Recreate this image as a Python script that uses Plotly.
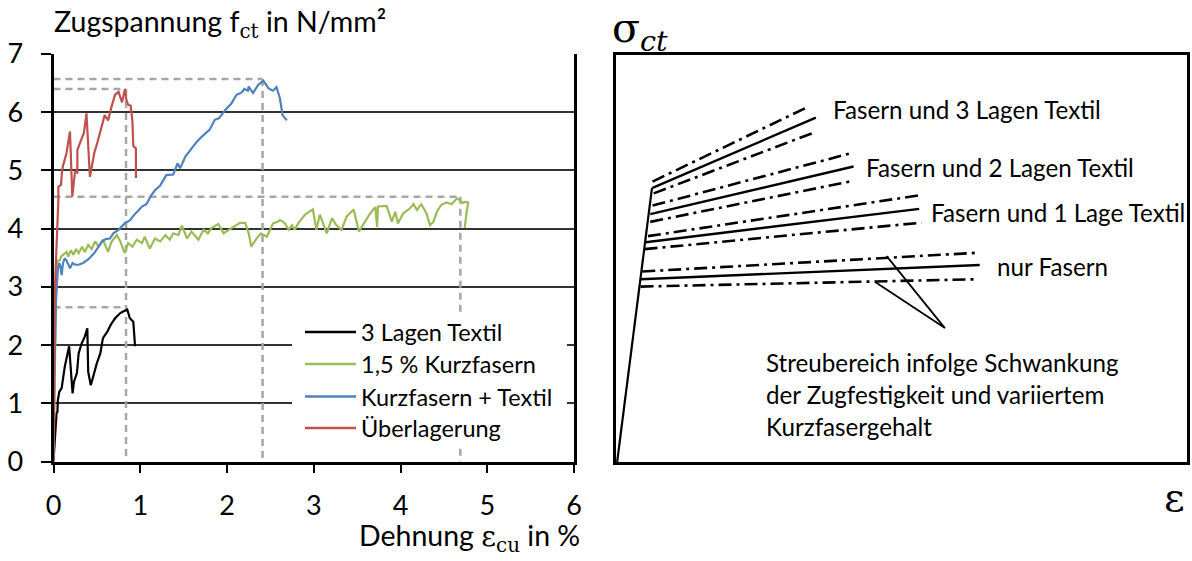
import plotly.graph_objects as go

W, H = 1192, 561

FONT = "Lato"
FS_TXT = 24.2     # schematic texts
FS_LEG = 23.5     # legend
FS_AX = 28.5      # axis titles
FS_TICK = 27      # tick labels
SERIF = "DejaVu Serif"

# ---------------- data (left chart) ----------------
x_textil = [0, 0.02, 0.035, 0.045, 0.05, 0.067, 0.094, 0.13, 0.18, 0.22, 0.236, 0.27, 0.29, 0.325, 0.36,
            0.39, 0.40, 0.43, 0.46, 0.50, 0.54, 0.57, 0.62, 0.66, 0.71, 0.77, 0.82, 0.85, 0.88, 0.92, 0.94]
y_textil = [0, 0.5, 0.83, 0.85, 1.05, 1.2, 1.26, 1.63, 1.98, 1.17, 1.37, 1.52, 1.86, 2.03, 2.14,
            2.29, 1.54, 1.31, 1.49, 1.69, 1.86, 2.12, 2.23, 2.35, 2.46, 2.55, 2.59, 2.61, 2.46, 2.40, 1.98]

x_fasern = [0, 0.01, 0.02, 0.03, 0.05, 0.075, 0.086, 0.11, 0.15, 0.17, 0.20, 0.23, 0.26, 0.29, 0.33, 0.36,
            0.40, 0.44, 0.48, 0.52, 0.57, 0.63, 0.67, 0.73, 0.77, 0.82, 0.86, 0.91, 0.96, 1.02, 1.05,
            1.11, 1.17, 1.23, 1.29, 1.34, 1.38, 1.44, 1.48, 1.54, 1.59, 1.67, 1.73, 1.78, 1.82, 1.90,
            1.96, 2.02, 2.07, 2.15, 2.21, 2.25, 2.28, 2.34, 2.39, 2.46, 2.53, 2.59, 2.61, 2.67, 2.71,
            2.75, 2.78, 2.82, 2.90, 2.99, 3.03, 3.07, 3.15, 3.21, 3.26, 3.32, 3.38, 3.46, 3.52, 3.59,
            3.65, 3.71, 3.73, 3.74, 3.84, 3.90, 3.94, 3.97, 4.03, 4.11, 4.15, 4.19, 4.24, 4.30, 4.34,
            4.38, 4.42, 4.47, 4.53, 4.59, 4.65, 4.69, 4.72, 4.74, 4.78, 4.76, 4.74]
y_fasern = [0, 1.2, 2.3, 3.0, 3.45, 3.46, 3.52, 3.55, 3.60, 3.52, 3.63, 3.55, 3.65, 3.58, 3.69, 3.60,
            3.72, 3.65, 3.78, 3.69, 3.81, 3.60, 3.78, 3.89, 3.78, 3.58, 3.75, 3.69, 3.81, 3.75, 3.86,
            3.66, 3.83, 3.78, 3.89, 3.81, 3.92, 3.89, 4.05, 3.83, 3.95, 3.81, 3.98, 3.92, 4.01, 4.08,
            3.92, 3.98, 4.03, 4.10, 4.10, 3.92, 3.69, 3.83, 3.92, 3.86, 4.09, 4.12, 4.15, 4.09, 3.98,
            4.06, 3.98, 4.09, 4.24, 4.33, 3.98, 4.24, 3.92, 4.18, 4.06, 3.98, 4.21, 4.33, 3.95, 4.12,
            4.26, 4.37, 4.03, 4.38, 4.39, 4.12, 4.29, 4.09, 4.26, 4.35, 4.42, 4.32, 4.42, 4.26, 4.06,
            4.12, 4.29, 4.41, 4.45, 4.42, 4.52, 4.48, 4.44, 4.46, 4.45, 4.26, 4.01]

x_kombi = [0, 0.01, 0.03, 0.05, 0.067, 0.08, 0.094, 0.11, 0.13, 0.15, 0.19, 0.22, 0.25, 0.29, 0.34, 0.40,
           0.47, 0.52, 0.56, 0.60, 0.65, 0.69, 0.75, 0.82, 0.88, 0.92, 0.96, 1.02, 1.07, 1.13, 1.17,
           1.23, 1.30, 1.38, 1.43, 1.46, 1.52, 1.59, 1.65, 1.71, 1.80, 1.86, 1.91, 1.98, 2.05, 2.11,
           2.17, 2.20, 2.24, 2.25, 2.30, 2.36, 2.42, 2.48, 2.53, 2.57, 2.61, 2.64, 2.67, 2.69]
y_kombi = [0, 1.5, 2.8, 3.3, 3.41, 3.35, 3.2, 3.41, 3.49, 3.45, 3.32, 3.41, 3.38, 3.38, 3.41, 3.47,
           3.58, 3.69, 3.78, 3.82, 3.83, 3.92, 3.98, 4.09, 4.14, 4.22, 4.29, 4.38, 4.42, 4.58, 4.66,
           4.74, 4.92, 4.93, 5.12, 5.04, 5.24, 5.38, 5.49, 5.58, 5.70, 5.87, 5.90, 6.04, 6.15, 6.30,
           6.34, 6.40, 6.37, 6.44, 6.33, 6.47, 6.54, 6.41, 6.37, 6.43, 6.24, 5.95, 5.90, 5.86]

x_ueber = [0, 0.005, 0.017, 0.03, 0.04, 0.048, 0.056, 0.056, 0.086, 0.10, 0.11, 0.15, 0.19, 0.217, 0.248,
           0.275, 0.275, 0.275, 0.325, 0.35, 0.38, 0.42, 0.47, 0.51, 0.59, 0.63, 0.67, 0.71, 0.75, 0.79,
           0.824, 0.84, 0.86, 0.89, 0.91, 0.92, 0.95, 0.95]
y_ueber = [0, 1.5, 2.98, 3.5, 3.81, 4.09, 4.49, 4.72, 4.75, 5.01, 5.08, 5.30, 5.67, 4.55, 4.98,
           4.96, 5.16, 5.35, 5.55, 5.64, 5.98, 4.89, 5.30, 5.50, 5.95, 5.86, 6.10, 6.30, 6.35, 6.17,
           6.40, 6.21, 6.13, 6.11, 5.84, 5.42, 5.38, 4.87]

# peak markers (dashed guides): strain at peak, stress at peak
peak_x = [0.836, 0.836, 2.41, 4.69]
peak_y = [2.65, 6.40, 6.57, 4.55]

series_names = ["3 Lagen Textil", "1,5 % Kurzfasern", "Kurzfasern + Textil", "Überlagerung"]
series_colors = ["#000000", "#9bbb59", "#4f81bd", "#c0504d"]

x_ticks = [0, 1, 2, 3, 4, 5, 6]
y_ticks = [0, 1, 2, 3, 4, 5, 6, 7]

# ---------------- schematic (right panel, arbitrary units 0..100) ----------------
elastic_x = [0.2, 6.3]
elastic_y = [0.0, 67.3]

branch_x0 = [6.3, 6.4, 6.6, 6.0, 6.4, 6.0, 5.2, 5.6, 5.0, 4.3, 4.6, 4.3]
branch_y0 = [67.3, 68.9, 66.0, 60.9, 63.0, 59.0, 54.0, 55.5, 52.3, 44.9, 46.8, 43.1]
branch_x1 = [35.0, 33.7, 34.4, 41.6, 41.5, 41.6, 53.1, 53.5, 53.5, 63.7, 63.2, 63.2]
branch_y1 = [84.6, 87.3, 80.8, 72.6, 76.0, 69.1, 62.2, 65.6, 58.8, 48.4, 51.4, 44.9]
branch_solid = [True, False, False, True, False, False, True, False, False, True, False, False]

pointer_x = [47.4, 57.6, 45.4]
pointer_y = [50.6, 32.9, 44.2]

branch_labels = ["Fasern und 3 Lagen Textil", "Fasern und 2 Lagen Textil",
                 "Fasern und 1 Lage Textil", "nur Fasern"]
branch_label_x = [37.6, 43.5, 54.8, 66.3]
branch_label_y = [86.6, 72.3, 61.4, 48.0]

note_lines = ["Streubereich infolge Schwankung", "der Zugfestigkeit und variiertem", "Kurzfasergehalt"]
note_x = 26.0
note_y = [24.4, 16.5, 8.7]

# ---------------- figure ----------------
fig = go.Figure()

GUIDE = dict(color="#a6a6a6", width=2.5, dash="7px,5px")
for gx, gy in zip(peak_x, peak_y):
    fig.add_trace(go.Scatter(x=[0, gx], y=[gy, gy], mode="lines", line=GUIDE,
                             showlegend=False, hoverinfo="skip", xaxis="x", yaxis="y"))
for gx, gy in zip(peak_x[1:], peak_y[1:]):
    fig.add_trace(go.Scatter(x=[gx, gx], y=[gy, 0], mode="lines", line=GUIDE,
                             showlegend=False, hoverinfo="skip", xaxis="x", yaxis="y"))

for xs, ys, nm, col in zip([x_textil, x_fasern, x_kombi, x_ueber],
                           [y_textil, y_fasern, y_kombi, y_ueber],
                           series_names, series_colors):
    fig.add_trace(go.Scatter(x=xs, y=ys, mode="lines", name=nm,
                             line=dict(color=col, width=2.2), showlegend=False,
                             xaxis="x", yaxis="y"))

# schematic
fig.add_trace(go.Scatter(x=elastic_x, y=elastic_y, mode="lines",
                         line=dict(color="black", width=2.2), showlegend=False,
                         xaxis="x2", yaxis="y2", hoverinfo="skip"))
for x0, y0, x1, y1, solid in zip(branch_x0, branch_y0, branch_x1, branch_y1, branch_solid):
    fig.add_trace(go.Scatter(x=[x0, x1], y=[y0, y1], mode="lines",
                             line=dict(color="black", width=2.4 if solid else 2.6,
                                       dash="solid" if solid else "13px,5px,3px,5px"),
                             showlegend=False, xaxis="x2", yaxis="y2", hoverinfo="skip"))
fig.add_trace(go.Scatter(x=pointer_x, y=pointer_y, mode="lines",
                         line=dict(color="black", width=1.8), showlegend=False,
                         xaxis="x2", yaxis="y2", hoverinfo="skip"))


def px(v):
    return min(max(v / W, 0.0), 1.0)


def py(v):
    return min(max(1 - v / H, 0.0), 1.0)


shapes = []
annotations = []

# manual legend with white background
shapes.append(dict(type="rect", xref="paper", yref="paper", layer="above",
                   x0=px(292), x1=px(567), y0=py(447), y1=py(313),
                   fillcolor="white", line=dict(width=0)))
leg_rows = [332, 364, 396.5, 428]
for yy, nm, col in zip(leg_rows, series_names, series_colors):
    shapes.append(dict(type="line", xref="paper", yref="paper", layer="above",
                       x0=px(305), x1=px(356), y0=py(yy), y1=py(yy),
                       line=dict(color=col, width=2.5)))
    annotations.append(dict(text=nm, xref="paper", yref="paper", x=px(359), y=py(yy),
                            xanchor="left", yanchor="middle", showarrow=False,
                            font=dict(family=FONT, size=FS_LEG, color="black")))

annotations.append(dict(
    text="Zugspannung f<sub><span style='font-family:%s'>ct</span></sub> in N/mm²" % SERIF,
    xref="paper", yref="paper", x=px(52), y=py(23), xanchor="left", yanchor="middle",
    showarrow=False, font=dict(family=FONT, size=FS_AX, color="black")))
annotations.append(dict(
    text="Dehnung <span style='font-family:%s'>ε<sub>cu</sub></span> in %%" % SERIF,
    xref="paper", yref="paper", x=px(582), y=py(559), xanchor="right", yanchor="bottom",
    showarrow=False, font=dict(family=FONT, size=FS_AX, color="black")))
annotations.append(dict(
    text="σ<sub><i>ct</i></sub>", xref="paper", yref="paper", x=px(610), y=py(2),
    xanchor="left", yanchor="top", showarrow=False,
    font=dict(family=SERIF, size=41, color="black")))
annotations.append(dict(
    text="ε", xref="paper", yref="paper", x=px(1174), y=py(497),
    xanchor="center", yanchor="middle", showarrow=False,
    font=dict(family=SERIF, size=40, color="black")))

for t, xx, yy in zip(branch_labels, branch_label_x, branch_label_y):
    annotations.append(dict(text=t, xref="x2", yref="y2", x=xx, y=yy, xanchor="left",
                            yanchor="middle", showarrow=False,
                            font=dict(family=FONT, size=FS_TXT, color="black")))
for t, yy in zip(note_lines, note_y):
    annotations.append(dict(text=t, xref="x2", yref="y2", x=note_x, y=yy, xanchor="left",
                            yanchor="middle", showarrow=False,
                            font=dict(family=FONT, size=FS_TXT, color="black")))

fig.update_layout(
    template="none",
    width=W, height=H, autosize=False, margin=dict(l=0, r=0, t=0, b=0, pad=0, autoexpand=False),
    paper_bgcolor="white", plot_bgcolor="white",
    font=dict(family=FONT, size=FS_TICK, color="black"),
    showlegend=False,
    xaxis=dict(domain=[px(53.5), px(574)], range=[0, 6], tickvals=x_ticks, automargin=False,
               showgrid=False, zeroline=False, showline=True, linecolor="black", linewidth=3,
               ticks="outside", ticklen=8, tickwidth=2, tickcolor="black",
               tickfont=dict(family=FONT, size=FS_TICK), ticklabelstandoff=10),
    yaxis=dict(domain=[py(461.5), py(54)], range=[0, 7], tickvals=y_ticks, automargin=False,
               showgrid=True, gridcolor="#333333", gridwidth=1.5, zeroline=False,
               showline=True, linecolor="black", linewidth=3, mirror=True,
               ticks="outside", ticklen=10, tickwidth=2, tickcolor="black",
               tickfont=dict(family=FONT, size=FS_TICK), ticklabelstandoff=12),
    xaxis2=dict(domain=[px(616), px(1187)], range=[0, 100], anchor="y2", automargin=False,
                showgrid=False, zeroline=False, showticklabels=False, ticks="",
                showline=True, mirror=True, linecolor="black", linewidth=2.5),
    yaxis2=dict(domain=[py(462), py(55)], range=[0, 100], anchor="x2", automargin=False,
                showgrid=False, zeroline=False, showticklabels=False, ticks="",
                showline=True, mirror=True, linecolor="black", linewidth=2.5),
    shapes=shapes, annotations=annotations,
)

fig.write_html("out.html")
